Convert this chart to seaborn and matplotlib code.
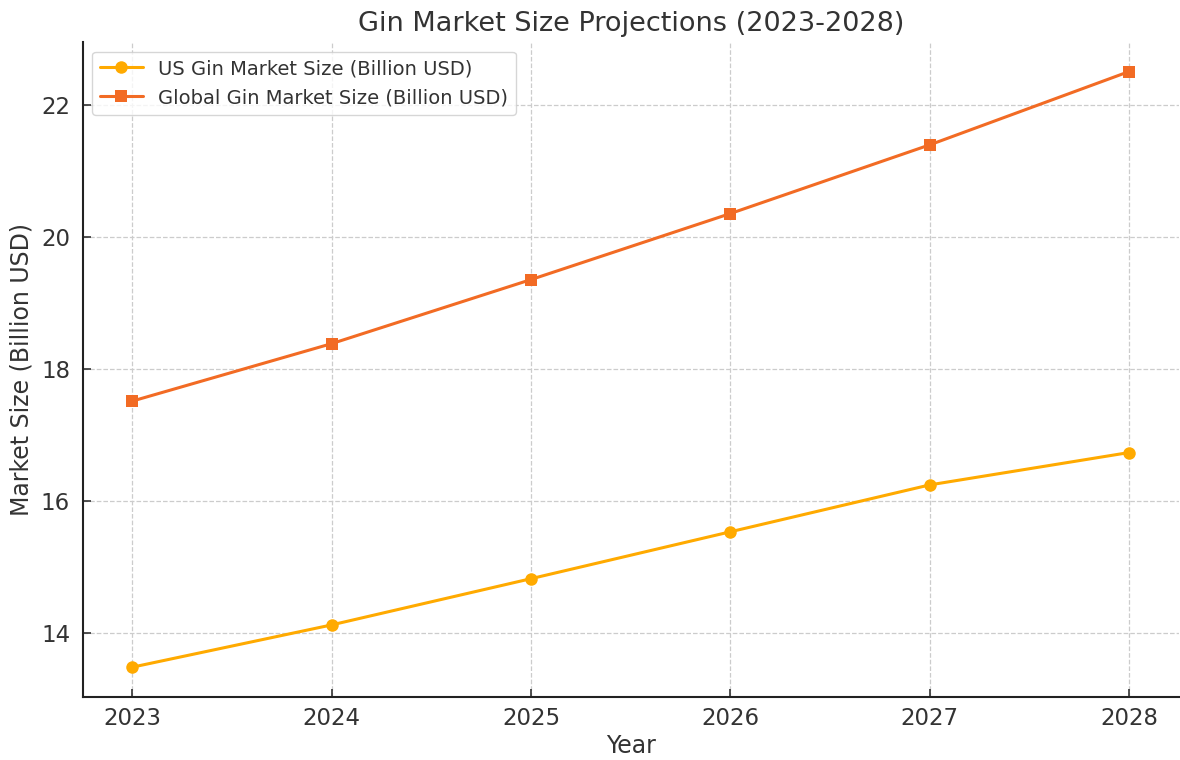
import pandas as pd
import matplotlib.pyplot as plt
import seaborn as sns

years = [2023, 2024, 2025, 2026, 2027, 2028]
us_market = [13.48, 14.12, 14.82, 15.53, 16.24, 16.73]
global_market = [17.51, 18.38, 19.35, 20.35, 21.39, 22.50]

us_label = 'US Gin Market Size (Billion USD)'
global_label = 'Global Gin Market Size (Billion USD)'

df = pd.DataFrame({'Year': years, us_label: us_market, global_label: global_market})

sns.set_style('ticks')
plt.rcParams['font.family'] = ['DejaVu Sans']
plt.rcParams['text.color'] = '#333333'
plt.rcParams['axes.labelcolor'] = '#333333'
plt.rcParams['xtick.color'] = '#333333'
plt.rcParams['ytick.color'] = '#333333'

fig, ax = plt.subplots(figsize=(11.8, 7.6), dpi=100)
sns.lineplot(x='Year', y=us_label, data=df, marker='o', color='#FFAA00',
             linewidth=2.2, markersize=9, markeredgewidth=0, label=us_label, ax=ax)
sns.lineplot(x='Year', y=global_label, data=df, marker='s', color='#F26B24',
             linewidth=2.2, markersize=8.5, markeredgewidth=0, label=global_label, ax=ax)

ax.set_title('Gin Market Size Projections (2023-2028)', fontsize=19.5, color='#333333', pad=8)
ax.set_xlabel('Year', fontsize=17, labelpad=3)
ax.set_ylabel('Market Size (Billion USD)', fontsize=17, labelpad=5)
ax.set_xticks(years)
ax.set_yticks([14, 16, 18, 20, 22])
ax.tick_params(axis='both', labelsize=16.5, direction='in', length=6, width=1.2)
ax.tick_params(axis='x', pad=7)
ax.tick_params(axis='y', pad=9)
ax.grid(True, linestyle='--', color='#cccccc', linewidth=0.9)
sns.despine(ax=ax)
for s in ['left', 'bottom']:
    ax.spines[s].set_linewidth(1.5)
    ax.spines[s].set_color('#222222')
ax.legend(loc='upper left', fontsize=14, frameon=True, handlelength=2.2)

plt.subplots_adjust(left=0.07, right=0.999, top=0.945, bottom=0.083)
fig.savefig('out.png')
